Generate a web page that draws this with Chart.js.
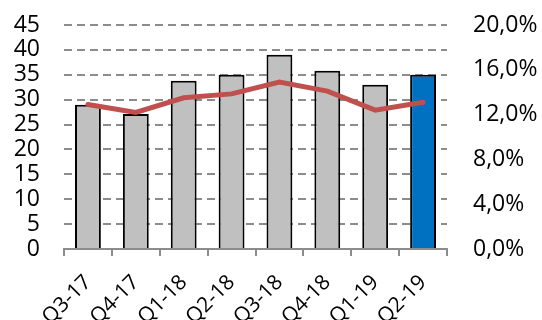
<!DOCTYPE html>
<html>
<head>
<meta charset="utf-8">
<script src="https://cdn.jsdelivr.net/npm/chart.js@4"></script>
<style>
  html, body { margin: 0; padding: 0; background: #fff; }
  #wrap { width: 542px; height: 320px; }
</style>
</head>
<body>
<div id="wrap"><canvas id="chart" width="542" height="320"></canvas></div>
<script>
// quarters on the x axis
var quarters = ['Q3-17', 'Q4-17', 'Q1-18', 'Q2-18', 'Q3-18', 'Q4-18', 'Q1-19', 'Q2-19'];
// bars, left axis
var barValues = [29.0, 27.1, 33.8, 35.0, 39.0, 35.8, 33.0, 35.0];
// line, right axis (share, 0..1)
var lineValues = [0.129, 0.122, 0.135, 0.1385, 0.149, 0.141, 0.124, 0.131];
var leftTicks = [0, 5, 10, 15, 20, 25, 30, 35, 40, 45];
var rightTicks = [0, 0.04, 0.08, 0.12, 0.16, 0.20];

var barColors = quarters.map(function (q, i) {
  return i === quarters.length - 1 ? '#0070c0' : '#c0c0c0';
});

function pct(v) {
  return (v * 100).toFixed(1).replace('.', ',') + '%';
}

// tick padding also pads the top of vertical scales; undo that
function fixY(width) {
  return function (s) {
    s.width = width;
    s.paddingTop = 12;
    s.paddingBottom = 12;
  };
}

Chart.defaults.font.family = '"Open Sans", sans-serif';
Chart.defaults.color = '#000';

new Chart(document.getElementById('chart'), {
  type: 'bar',
  data: {
    labels: quarters,
    datasets: [
      {
        type: 'line',
        data: lineValues,
        yAxisID: 'y1',
        borderColor: '#c0504d',
        borderWidth: 5,
        borderCapStyle: 'round',
        pointRadius: 0,
        tension: 0,
        order: 0
      },
      {
        data: barValues,
        yAxisID: 'y',
        backgroundColor: barColors,
        borderColor: '#000',
        borderWidth: 2,
        categoryPercentage: 1,
        barPercentage: 0.54,
        order: 1
      }
    ]
  },
  options: {
    responsive: false,
    animation: false,
    layout: { padding: { top: 25, right: 0, left: 0, bottom: 0 } },
    plugins: { legend: { display: false }, tooltip: { enabled: false } },
    scales: {
      x: {
        grid: {
          offset: true,
          drawOnChartArea: false,
          drawTicks: true,
          tickLength: 7,
          color: '#8c8c8c',
          lineWidth: 2
        },
        border: { display: true, color: '#8c8c8c', width: 2 },
        ticks: { autoSkip: false, minRotation: 45, maxRotation: 45, font: { size: 21 }, padding: 14 },
        afterFit: function (s) { s.height = 71; }
      },
      y: {
        position: 'left',
        min: 0,
        max: 45,
        afterBuildTicks: function (s) { s.ticks = leftTicks.map(function (v) { return { value: v }; }); },
        grid: {
          color: function (ctx) { return ctx.tick && ctx.tick.value === 0 ? 'rgba(0,0,0,0)' : '#8c8c8c'; },
          lineWidth: 2,
          drawTicks: false
        },
        border: { display: false, dash: [8, 5] },
        ticks: { autoSkip: false, font: { size: 23 }, padding: 24 },
        afterFit: fixY(64)
      },
      y1: {
        position: 'right',
        min: 0,
        max: 0.2,
        afterBuildTicks: function (s) { s.ticks = rightTicks.map(function (v) { return { value: v }; }); },
        grid: { drawOnChartArea: false, drawTicks: false },
        border: { display: false },
        ticks: { autoSkip: false, font: { size: 23 }, padding: 26, callback: function (v) { return pct(v); } },
        afterFit: fixY(95)
      }
    }
  }
});
</script>
</body>
</html>
